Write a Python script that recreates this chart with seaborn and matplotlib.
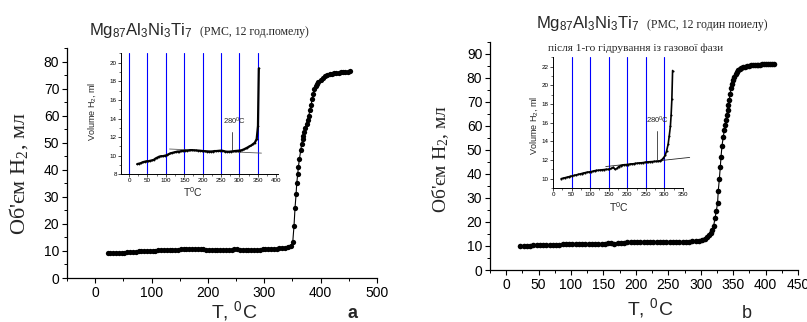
import matplotlib
matplotlib.use("Agg")
import matplotlib.pyplot as plt
import seaborn as sns
import pandas as pd
from matplotlib.ticker import MultipleLocator

# ---------------- sample a: Mg87Al3Ni3Ti7, 12 h milling ----------------
temp_a = [22, 27, 32, 37, 42, 47, 52, 57, 62, 67, 72, 77, 82, 87, 92, 97, 102, 107,
          112, 117, 122, 127, 132, 137, 142, 147, 152, 157, 162, 167, 172, 177, 182,
          187, 192, 197, 202, 207, 212, 217, 222, 227, 232, 237, 242, 247, 252, 257,
          262, 267, 272, 277, 282, 287, 292, 297, 302, 307, 312, 317, 322, 327, 332,
          337, 342, 347, 350.5, 352.8, 354.6, 356.4, 357.6, 359.4, 360.5, 362.3,
          364.7, 366.5, 368, 369.4, 371, 373, 375, 377, 379, 381, 383, 385, 387, 389,
          391, 393, 396, 400, 404, 408, 412, 416, 420, 424, 428, 432, 436, 440, 444,
          448, 452]
vol_a = [9.1, 9.15, 9.2, 9.3, 9.35, 9.4, 9.4, 9.45, 9.5, 9.55, 9.7, 9.8, 9.9, 9.95,
         9.95, 10.0, 10.05, 10.15, 10.25, 10.3, 10.35, 10.4, 10.45, 10.45, 10.5, 10.5,
         10.55, 10.55, 10.57, 10.6, 10.6, 10.58, 10.57, 10.55, 10.54, 10.52, 10.5,
         10.47, 10.45, 10.43, 10.43, 10.45, 10.5, 10.5, 10.52, 10.54, 10.55, 10.5,
         10.45, 10.43, 10.43, 10.45, 10.47, 10.5, 10.52, 10.54, 10.56, 10.6, 10.68,
         10.78, 10.88, 11.0, 11.1, 11.25, 11.4, 11.8, 13.2, 19.4, 26.0, 30.9, 35.0,
         38.5, 41.0, 43.9, 47.2, 49.7, 51.5, 52.6, 54.0, 55.5, 57.0, 58.5, 60.0, 62.0,
         64.0, 66.0, 68.0, 69.8, 71.0, 71.8, 72.4, 73.3, 74.0, 74.6, 75.0, 75.3, 75.5,
         75.7, 75.8, 75.9, 76.0, 76.1, 76.2, 76.3, 76.4]

# ------- sample b: after the first hydrogenation from the gas phase -------
temp_b = [22, 27, 32, 37, 42, 47, 52, 57, 62, 67, 72, 77, 82, 87, 92, 97, 102, 107,
          112, 117, 122, 127, 132, 137, 142, 147, 152, 157, 162, 167, 172, 177, 182,
          187, 192, 197, 202, 207, 212, 217, 222, 227, 232, 237, 242, 247, 252, 257,
          262, 267, 272, 277, 282, 287, 292, 297, 302, 306, 310, 313, 316, 318, 320,
          322, 324, 326, 327, 328.7, 330.2, 331.3, 332.8, 334.8, 336.4, 338, 339,
          340.3, 341.6, 342.8, 344, 345.3, 346.7, 348.5, 350, 352, 354, 356, 358, 360,
          362, 365, 368, 371, 374, 377, 380, 383, 386, 389, 392, 395, 398, 401, 404,
          407, 410, 413]
vol_b = [10.0, 10.05, 10.1, 10.15, 10.2, 10.25, 10.3, 10.35, 10.4, 10.45, 10.5, 10.55,
         10.6, 10.65, 10.7, 10.72, 10.75, 10.8, 10.85, 10.88, 10.9, 10.93, 10.95,
         10.97, 11.0, 11.0, 11.02, 11.1, 11.2, 11.0, 11.1, 11.3, 11.4, 11.45, 11.5,
         11.5, 11.52, 11.55, 11.58, 11.6, 11.63, 11.65, 11.68, 11.7, 11.72, 11.75,
         11.77, 11.8, 11.82, 11.83, 11.85, 11.85, 11.85, 11.9, 12.0, 12.2, 12.5, 13.0,
         13.7, 14.6, 15.6, 16.8, 18.5, 21.6, 24.5, 28.0, 32.9, 37.8, 43.0, 47.2, 51.7,
         55.5, 58.3, 60.5, 62.5, 64.6, 66.7, 68.8, 70.8, 73.3, 75.7, 77.5, 79.0, 80.5,
         81.6, 82.5, 83.2, 83.7, 84.0, 84.4, 84.6, 84.8, 85.0, 85.1, 85.2, 85.3, 85.4,
         85.5, 85.5, 85.6, 85.7, 85.7, 85.7, 85.8, 85.8, 85.7]

# guide lines in the insets
grid_t_a = [0, 50, 100, 150, 200, 250, 300, 350]
grid_t_b = [50, 100, 150, 200, 250, 300]
tangent_a_t = [110, 360]
tangent_a_v = [10.72, 10.28]
tangent_b_t = [142, 368]
tangent_b_v = [11.3, 12.28]
onset_t = 280
onset_a_v = [12.6, 10.65]
onset_b_v = [15.1, 12.0]

df_a = pd.DataFrame({"T": temp_a, "V": vol_a})
df_b = pd.DataFrame({"T": temp_b, "V": vol_b})

sns.set_theme(style="ticks")
plt.rcParams["font.family"] = ["Liberation Sans", "DejaVu Sans"]
plt.rcParams["mathtext.default"] = "regular"

W, H = 807, 322
fig = plt.figure(figsize=(W / 100, H / 100), dpi=100)
fig.patch.set_facecolor("white")


def px_axes(left, top, right, bottom):
    return fig.add_axes([left / W, 1 - bottom / H, (right - left) / W, (bottom - top) / H])


def ftext(x, y, s, **kw):
    fig.text(x / W, 1 - y / H, s, **kw)


def style_main(ax, xmaj, xmin, ymaj, ymin):
    for side in ("top", "right"):
        ax.spines[side].set_visible(False)
    for side in ("left", "bottom"):
        ax.spines[side].set_linewidth(0.9)
        ax.spines[side].set_color("black")
    ax.set_facecolor("white")
    ax.xaxis.set_major_locator(MultipleLocator(xmaj))
    ax.xaxis.set_minor_locator(MultipleLocator(xmin))
    ax.yaxis.set_major_locator(MultipleLocator(ymaj))
    ax.yaxis.set_minor_locator(MultipleLocator(ymin))
    ax.tick_params(which="major", direction="out", length=3.5, width=0.8,
                   labelsize=10, pad=2, colors="black")
    ax.tick_params(which="minor", direction="out", length=2, width=0.7, colors="black")
    ax.set_xlabel("")
    ax.set_ylabel("")


def style_inset(ax):
    for side in ("top", "right"):
        ax.spines[side].set_visible(False)
    for side in ("left", "bottom"):
        ax.spines[side].set_linewidth(0.7)
        ax.spines[side].set_color("black")
    ax.patch.set_alpha(0)
    ax.xaxis.set_major_locator(MultipleLocator(50))
    ax.xaxis.set_minor_locator(MultipleLocator(25))
    ax.yaxis.set_major_locator(MultipleLocator(2))
    ax.yaxis.set_minor_locator(MultipleLocator(1))
    ax.tick_params(which="major", direction="out", length=2, width=0.5,
                   labelsize=4.5, pad=1, colors="black")
    ax.tick_params(which="minor", direction="out", length=1.2, width=0.4, colors="black")
    ax.set_xlabel("")
    ax.set_ylabel("")


# ---------------- panel a ----------------
ax_a = px_axes(67, 48, 377, 278)
sns.lineplot(data=df_a, x="T", y="V", ax=ax_a, estimator=None, sort=False,
             color="black", lw=0.8, marker="o", markersize=3.8,
             markeredgewidth=0, markerfacecolor="black")
ax_a.set_xlim(-50, 500)
ax_a.set_ylim(0, 85)
style_main(ax_a, 100, 50, 10, 5)

in_a = px_axes(121, 53, 278, 174.3)
for t in grid_t_a:
    in_a.axvline(t, color="#0000ff", lw=0.8, zorder=1)
sub_a = df_a[df_a["V"] <= 20]
sns.lineplot(data=sub_a, x="T", y="V", ax=in_a, estimator=None, sort=False,
             color="black", lw=1.6, marker="o", markersize=1.3,
             markeredgewidth=0, zorder=3)
in_a.plot(tangent_a_t, tangent_a_v, color="0.35", lw=0.6, zorder=2)
in_a.plot([onset_t, onset_t], onset_a_v, color="0.2", lw=0.6, zorder=2)
in_a.text(onset_t + 7, 13.1, "280$^0$C", fontsize=5.5, ha="center", va="bottom")
in_a.set_xlim(-22, 405)
in_a.set_ylim(8, 21.05)
style_inset(in_a)

# ---------------- panel b ----------------
ax_b = px_axes(490, 41.7, 798, 270)
sns.lineplot(data=df_b, x="T", y="V", ax=ax_b, estimator=None, sort=False,
             color="black", lw=0.8, marker="o", markersize=4.0,
             markeredgewidth=0, markerfacecolor="black")
ax_b.set_xlim(-25, 450)
ax_b.set_ylim(0, 95)
style_main(ax_b, 50, 25, 10, 5)

in_b = px_axes(553, 57, 683, 188)
for t in grid_t_b:
    in_b.axvline(t, color="#0000ff", lw=0.8, zorder=1)
sub_b = df_b[df_b["V"] <= 22]
sns.lineplot(data=sub_b, x="T", y="V", ax=in_b, estimator=None, sort=False,
             color="black", lw=1.2, marker="o", markersize=1.5,
             markeredgewidth=0, zorder=3)
in_b.plot(tangent_b_t, tangent_b_v, color="0.15", lw=0.6, zorder=2, clip_on=False)
in_b.plot([onset_t, onset_t], onset_b_v, color="0.2", lw=0.6, zorder=2)
in_b.text(onset_t + 2, 15.6, "280$^0$C", fontsize=5.5, ha="center", va="bottom")
in_b.set_xlim(0, 350)
in_b.set_ylim(9, 23.05)
style_inset(in_b)

# ---------------- text ----------------
serif = ["Liberation Serif", "DejaVu Serif"]

ftext(89, 35, "Mg$_{87}$Al$_3$Ni$_3$Ti$_7$", fontsize=12, ha="left", va="baseline")
ftext(200, 35, "(РМС, 12 год.помелу)", fontsize=8.5, ha="left", va="baseline",
      family=serif)
ftext(536, 28, "Mg$_{87}$Al$_3$Ni$_3$Ti$_7$", fontsize=12, ha="left", va="baseline")
ftext(647, 28, "(РМС, 12 годин поиелу)", fontsize=8.5, ha="left", va="baseline",
      family=serif)
ftext(636, 48, "після 1-го гідрування із газової фази", fontsize=8.2,
      ha="center", va="center", family=serif)

ftext(19, 174, "Об'єм H$_2$, мл", fontsize=16, rotation=90, ha="center",
      va="center", family=serif)
ftext(441, 159, "Об'єм H$_2$, мл", fontsize=14, rotation=90, ha="center",
      va="center", family=serif)

ftext(234, 311, "T, $^0$C", fontsize=14, ha="center", va="center")
ftext(650, 308, "T, $^0$C", fontsize=14, ha="center", va="center")
ftext(353, 313, "a", fontsize=13, fontweight="bold", ha="center", va="center")
ftext(747, 313, "b", fontsize=13, ha="center", va="center")

ftext(92.5, 111, "Volume H$_2$, ml", fontsize=6.5, rotation=90, ha="center", va="center")
ftext(534, 125, "Volume H$_2$, ml", fontsize=6.5, rotation=90, ha="center", va="center")
ftext(193, 192, "T$^0$C", fontsize=7.5, ha="center", va="center")
ftext(619, 207, "T$^0$C", fontsize=7.5, ha="center", va="center")

fig.savefig("out.png", dpi=100, facecolor="white")
